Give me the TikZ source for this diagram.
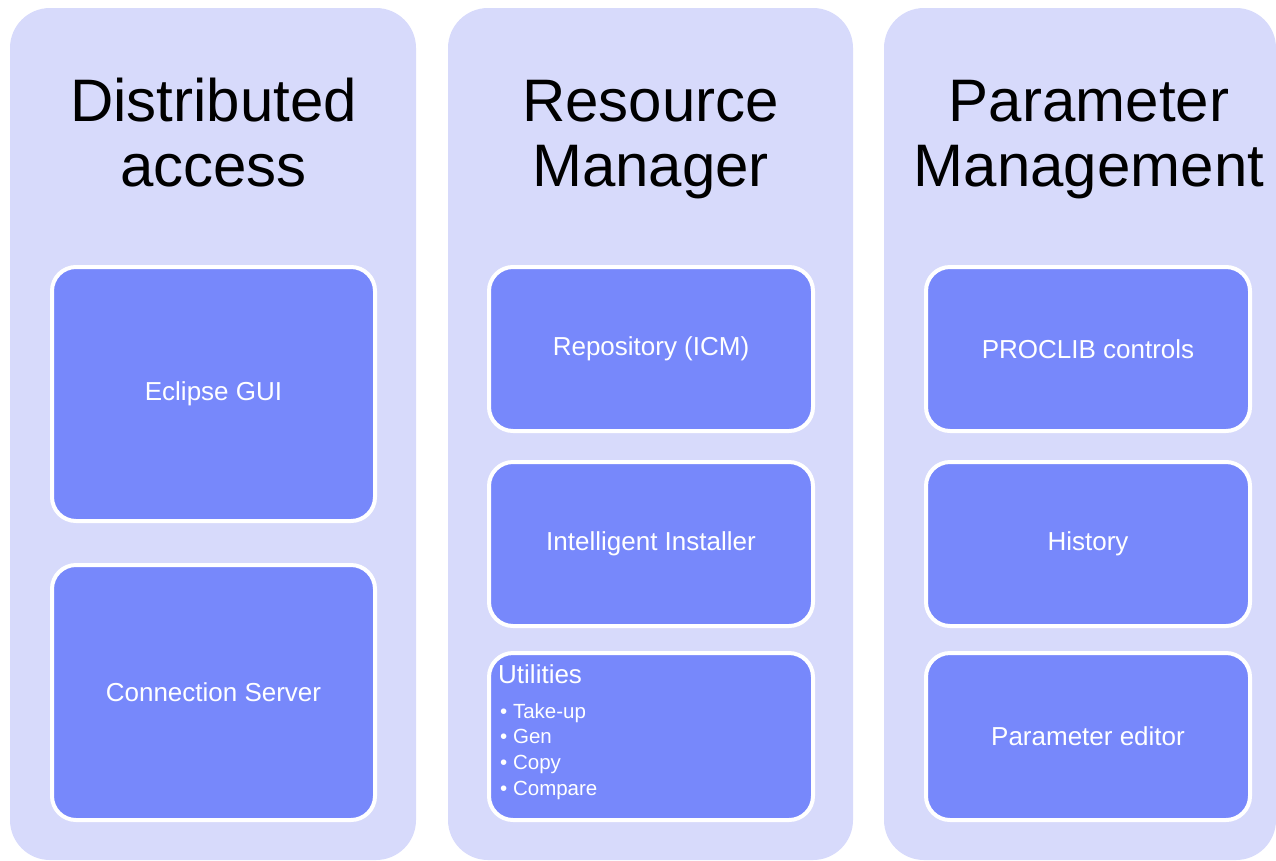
\documentclass[tikz,border=0pt]{standalone}
\usepackage{fontspec}
\setmainfont{Liberation Sans}

\definecolor{panelfill}{HTML}{D7DAFB}
\definecolor{modfill}{HTML}{7788FB}

\tikzset{
	panel/.style = {fill = panelfill, draw = none, rounded corners = 40pt, minimum height = 852pt, inner sep = 0},
	heading/.style = {font = \fontsize{60}{65}\selectfont, align = center, anchor = base, inner sep = 0},
	module/.style = {fill = modfill, draw = white, line width = 4pt, rounded corners = 24pt, text = white,
		font = \fontsize{26}{30}\selectfont, minimum width = 324pt, minimum height = 164pt, inner sep = 0},
	utiltext/.style = {text = white, inner sep = 0, anchor = base west},
}

\begin{document}
\begin{tikzpicture}[x = 1pt, y = -1pt]
	\useasboundingbox (0, 0) rectangle (1276, 860);
	
	% panels
	\node [panel, minimum width = 406pt] (pDist) at (213, 434) {};
	\node [panel, minimum width = 405pt] (pRes) at (650.5, 434) {};
	\node [panel, minimum width = 392pt] (pPar) at (1080, 434) {};
	
	% titles
	\node [heading] (tDist) at (213.5, 186) {Distributed\\access};
	\node [heading] (tRes) at (650.5, 186) {Resource\\Manager};
	\node [heading] (tPar) at (1089, 186) {Parameter\\Management};
	
	% distributed access
	\node [module, minimum width = 323pt, minimum height = 254pt] (gui) at (213.5, 394) {Eclipse GUI};
	\node [module, minimum width = 323pt, minimum height = 255pt] (conn) at (213.5, 692.5) {Connection Server};
	
	% resource manager
	\node [module] (repo) at (651, 349) {Repository (ICM)};
	\node [module] (inst) at (651, 544) {Intelligent Installer};
	\node [module, minimum height = 167pt] (util) at (651, 736.5) {};
	\node [utiltext, font = \fontsize{26}{30}\selectfont] (utilHead) at (498, 683) {Utilities};
	\node [utiltext, font = \fontsize{20.5}{25.6}\selectfont, align = left] (utilList) at (500, 795)
		{\textbullet\ Take-up\\\textbullet\ Gen\\\textbullet\ Copy\\\textbullet\ Compare};
	
	% parameter management
	\node [module] (proc) at (1088, 349) {PROCLIB controls};
	\node [module] (hist) at (1088, 544) {History};
	\node [module, minimum height = 167pt] (pedit) at (1088, 736.5) {Parameter editor};
\end{tikzpicture}
\end{document}
